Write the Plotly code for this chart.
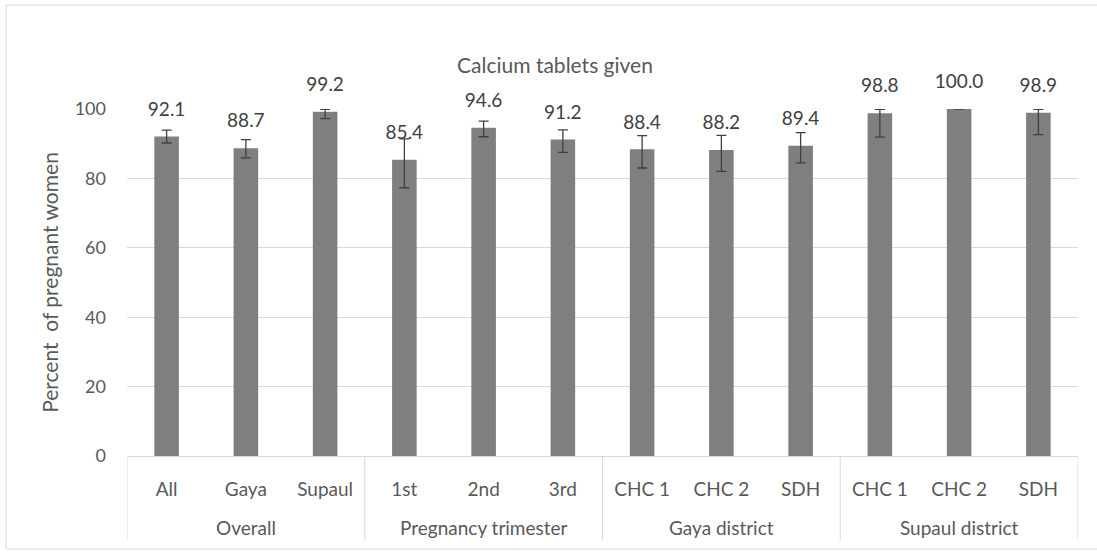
import plotly.graph_objects as go

# Datos
grupos = ['Overall'] * 3 + ['Pregnancy trimester'] * 3 + ['Gaya district'] * 3 + ['Supaul district'] * 3
categorias = ['All', 'Gaya', 'Supaul', '1st', '2nd', '3rd', 'CHC 1', 'CHC 2', 'SDH', 'CHC 1', 'CHC 2', 'SDH']
porcentajes = [92.1, 88.7, 99.2, 85.4, 94.6, 91.2, 88.4, 88.2, 89.4, 98.8, 100.0, 98.9]
error_sup = [1.8, 2.5, 0.7, 6.0, 1.9, 2.8, 3.9, 4.2, 3.8, 1.1, 0.0, 1.0]
error_inf = [1.9, 2.8, 2.0, 8.1, 2.6, 3.7, 5.4, 6.2, 4.9, 6.9, 0.0, 6.3]

fuente = 'Lato'
gris_texto = '#595959'
gris_linea = '#d9d9d9'

posiciones = list(range(len(categorias)))

fig = go.Figure()

# Barras con intervalos de confianza
fig.add_trace(go.Bar(
    x=posiciones,
    y=porcentajes,
    marker=dict(color='#7f7f7f', line=dict(width=0)),
    error_y=dict(
        type='data',
        symmetric=False,
        array=error_sup,
        arrayminus=error_inf,
        color='#404040',
        thickness=1.3,
        width=5
    ),
    hoverinfo='skip',
    showlegend=False
))

# Etiquetas de valores encima de cada barra
fig.add_trace(go.Scatter(
    x=posiciones,
    y=porcentajes,
    mode='markers+text',
    text=[f'{v:.1f}' for v in porcentajes],
    textposition='top center',
    textfont=dict(family=fuente, size=19, color='#404040'),
    marker=dict(size=24, opacity=0),
    cliponaxis=False,
    hoverinfo='skip',
    showlegend=False
))

# Eje de categorías en dos niveles: etiquetas de grupo y separadores
anotaciones = []
divisores = []
inicio = 0
for i in range(1, len(grupos) + 1):
    if i == len(grupos) or grupos[i] != grupos[inicio]:
        anotaciones.append(dict(
            x=(inicio + i - 1) / 2, y=0, xref='x', yref='paper',
            text=grupos[inicio], showarrow=False,
            yshift=-71, yanchor='middle',
            font=dict(family=fuente, size=19, color=gris_texto)
        ))
        divisores.append(inicio - 0.5)
        inicio = i
divisores.append(len(grupos) - 0.5)

formas = [dict(
    type='line', xref='x', yref='paper',
    x0=d, x1=d, y0=0, y1=-84 / 347,
    line=dict(color=gris_linea, width=1)
) for d in divisores]

# Borde del área del gráfico
formas.append(dict(
    type='rect', xref='paper', yref='paper',
    x0=-121 / 951, x1=1016 / 951, y0=-93 / 347, y1=451 / 347,
    line=dict(color=gris_linea, width=1),
    layer='below'
))

fig.update_layout(
    width=1097,
    height=552,
    paper_bgcolor='white',
    plot_bgcolor='white',
    font=dict(family=fuente, size=19, color=gris_texto),
    title=dict(
        text='Calcium tablets given',
        x=555 / 1097,
        xref='container',
        y=1 - 66 / 552,
        yref='container',
        xanchor='center',
        yanchor='middle',
        font=dict(family=fuente, size=21, color=gris_texto)
    ),
    margin=dict(l=127, r=19, t=109, b=96, autoexpand=False),
    bargap=0.69,
    annotations=anotaciones,
    shapes=formas
)

fig.update_xaxes(
    range=[-0.5, len(categorias) - 0.5],
    tickmode='array',
    tickvals=posiciones,
    ticktext=categorias,
    showline=True,
    linecolor=gris_linea,
    linewidth=1,
    showgrid=False,
    zeroline=False,
    ticks='',
    ticklabelstandoff=16,
    tickfont=dict(family=fuente, size=19, color=gris_texto),
    automargin=False
)

fig.update_yaxes(
    range=[0, 100],
    dtick=20,
    showgrid=True,
    gridcolor=gris_linea,
    gridwidth=1,
    zeroline=False,
    showline=False,
    ticklabelstandoff=20,
    tickfont=dict(family=fuente, size=18, color=gris_texto),
    title=dict(text='Percent  of pregnant women', standoff=10,
               font=dict(family=fuente, size=21, color=gris_texto)),
    automargin=False
)

# Quitar el margen por defecto del body para que la figura ocupe la ventana
fig.write_html('out.html', config={'displayModeBar': False},
               post_script="document.body.style.margin='0px';")
